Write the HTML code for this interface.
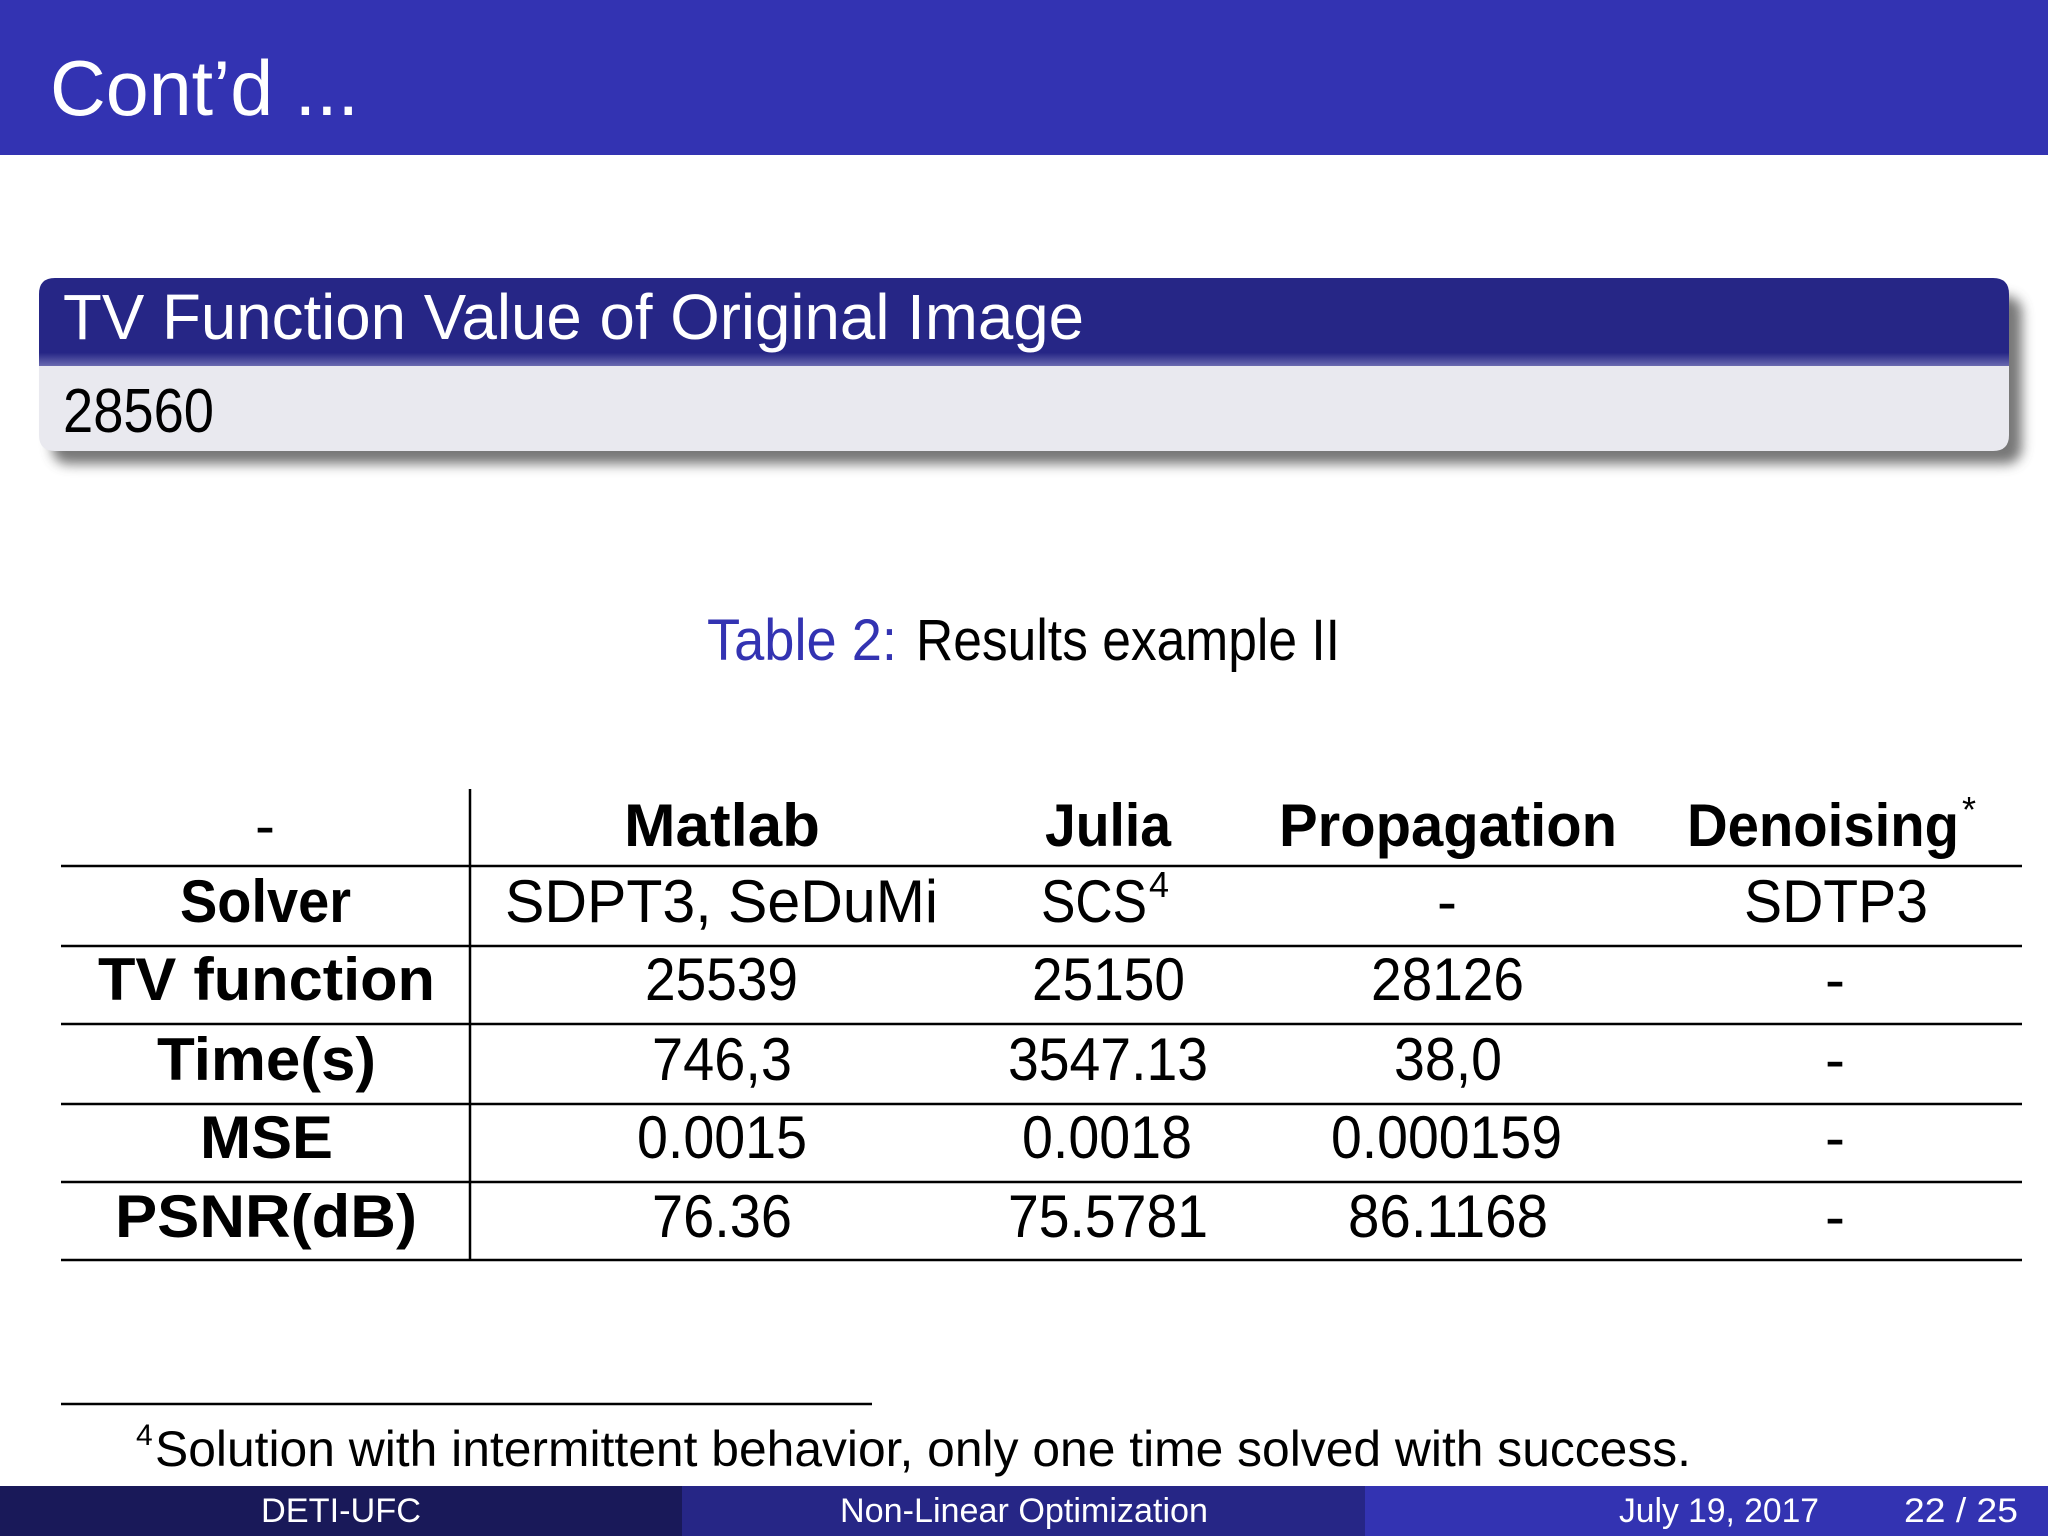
<!DOCTYPE html>
<html><head><meta charset="utf-8"><style>
html,body{margin:0;padding:0;background:#fff}
svg{display:block}
text{font-family:"Liberation Sans",sans-serif}
</style></head><body>
<svg width="2048" height="1536" viewBox="0 0 2048 1536">
<defs>
<filter id="sh" x="-5%" y="-20%" width="110%" height="160%"><feGaussianBlur stdDeviation="6"/></filter>
<linearGradient id="tg" x1="0" y1="0" x2="0" y2="1"><stop offset="0.85" stop-color="#262686"/><stop offset="1" stop-color="#6a6ab0"/></linearGradient>
</defs>
<rect x="0" y="0" width="2048" height="155" fill="#3333b2"/>
<text x="50" y="115" font-size="78" fill="#fff" textLength="309" lengthAdjust="spacingAndGlyphs">Cont’d ...</text>

<g>
<rect x="52" y="296" width="1970" height="168" rx="16" fill="#555" opacity="0.8" filter="url(#sh)"/>
<path d="M39 294 Q39 278 55 278 L1993 278 Q2009 278 2009 294 L2009 366 L39 366 Z" fill="url(#tg)"/>
<path d="M39 366 L2009 366 L2009 435 Q2009 451 1993 451 L55 451 Q39 451 39 435 Z" fill="#e9e9ef"/>
<text x="63" y="339" font-size="64" fill="#fff" textLength="1021" lengthAdjust="spacingAndGlyphs">TV Function Value of Original Image</text>
<text x="63" y="432" font-size="62" fill="#000" textLength="151" lengthAdjust="spacingAndGlyphs">28560</text>
</g>

<text y="660" font-size="58"><tspan x="707" fill="#3333b2" textLength="190" lengthAdjust="spacingAndGlyphs">Table 2:</tspan><tspan x="916" fill="#000" textLength="424" lengthAdjust="spacingAndGlyphs">Results example II</tspan></text>

<g fill="#000">
<line x1="470" y1="789" x2="470" y2="1260" stroke="#000" stroke-width="2.5"/>
<line x1="61" y1="866" x2="2022" y2="866" stroke="#000" stroke-width="2.5"/>
<line x1="61" y1="946" x2="2022" y2="946" stroke="#000" stroke-width="2.5"/>
<line x1="61" y1="1024" x2="2022" y2="1024" stroke="#000" stroke-width="2.5"/>
<line x1="61" y1="1104" x2="2022" y2="1104" stroke="#000" stroke-width="2.5"/>
<line x1="61" y1="1182" x2="2022" y2="1182" stroke="#000" stroke-width="2.5"/>
<line x1="61" y1="1260" x2="2022" y2="1260" stroke="#000" stroke-width="2.5"/>
<g font-weight="bold" font-size="60">
<text x="265" y="846" text-anchor="middle" font-weight="normal">-</text>
<text x="624" y="846" textLength="196" lengthAdjust="spacingAndGlyphs">Matlab</text>
<text x="1045" y="846" textLength="126" lengthAdjust="spacingAndGlyphs">Julia</text>
<text x="1279" y="846" textLength="338" lengthAdjust="spacingAndGlyphs">Propagation</text>
<text x="1687" y="846" textLength="272" lengthAdjust="spacingAndGlyphs">Denoising</text>
<text x="1962" y="822" font-size="36" font-weight="normal">*</text>
<text x="180" y="922" textLength="171" lengthAdjust="spacingAndGlyphs">Solver</text>
<text x="98" y="1000" textLength="337" lengthAdjust="spacingAndGlyphs">TV function</text>
<text x="157" y="1080" textLength="219" lengthAdjust="spacingAndGlyphs">Time(s)</text>
<text x="200" y="1158" textLength="133" lengthAdjust="spacingAndGlyphs">MSE</text>
<text x="115" y="1237" textLength="302" lengthAdjust="spacingAndGlyphs">PSNR(dB)</text>
</g>
<g font-size="60">
<text x="505" y="922" textLength="433" lengthAdjust="spacingAndGlyphs">SDPT3, SeDuMi</text>
<text x="1041" y="922" textLength="106" lengthAdjust="spacingAndGlyphs">SCS</text>
<text x="1149" y="897" font-size="36">4</text>
<text x="1447" y="922" text-anchor="middle">-</text>
<text x="1744" y="922" textLength="184" lengthAdjust="spacingAndGlyphs">SDTP3</text>

<text x="645" y="1000" textLength="153" lengthAdjust="spacingAndGlyphs">25539</text>
<text x="1032" y="1000" textLength="153" lengthAdjust="spacingAndGlyphs">25150</text>
<text x="1371" y="1000" textLength="153" lengthAdjust="spacingAndGlyphs">28126</text>
<text x="1835" y="1000" text-anchor="middle">-</text>

<text x="652" y="1080" textLength="140" lengthAdjust="spacingAndGlyphs">746,3</text>
<text x="1008" y="1080" textLength="200" lengthAdjust="spacingAndGlyphs">3547.13</text>
<text x="1394" y="1080" textLength="108" lengthAdjust="spacingAndGlyphs">38,0</text>
<text x="1835" y="1080" text-anchor="middle">-</text>

<text x="637" y="1158" textLength="170" lengthAdjust="spacingAndGlyphs">0.0015</text>
<text x="1022" y="1158" textLength="170" lengthAdjust="spacingAndGlyphs">0.0018</text>
<text x="1331" y="1158" textLength="231" lengthAdjust="spacingAndGlyphs">0.000159</text>
<text x="1835" y="1158" text-anchor="middle">-</text>

<text x="652" y="1237" textLength="140" lengthAdjust="spacingAndGlyphs">76.36</text>
<text x="1008" y="1237" textLength="200" lengthAdjust="spacingAndGlyphs">75.5781</text>
<text x="1348" y="1237" textLength="200" lengthAdjust="spacingAndGlyphs">86.1168</text>
<text x="1835" y="1237" text-anchor="middle">-</text>
</g>
</g>

<line x1="61" y1="1404" x2="872" y2="1404" stroke="#000" stroke-width="2.5"/>
<text x="136" y="1445" font-size="30">4</text>
<text x="155" y="1466" font-size="50" textLength="1536" lengthAdjust="spacingAndGlyphs">Solution with intermittent behavior, only one time solved with success.</text>

<g>
<rect x="0" y="1486" width="682" height="50" fill="#191959"/>
<rect x="682" y="1486" width="683" height="50" fill="#262686"/>
<rect x="1365" y="1486" width="683" height="50" fill="#3333b2"/>
<g fill="#fff" font-size="34">
<text x="261" y="1522" textLength="160" lengthAdjust="spacingAndGlyphs">DETI-UFC</text>
<text x="840" y="1522" textLength="368" lengthAdjust="spacingAndGlyphs">Non-Linear Optimization</text>
<text x="1619" y="1522" textLength="200" lengthAdjust="spacingAndGlyphs">July 19, 2017</text>
<text x="1904" y="1522" textLength="114" lengthAdjust="spacingAndGlyphs">22 / 25</text>
</g>
</g>
</svg>
</body></html>
